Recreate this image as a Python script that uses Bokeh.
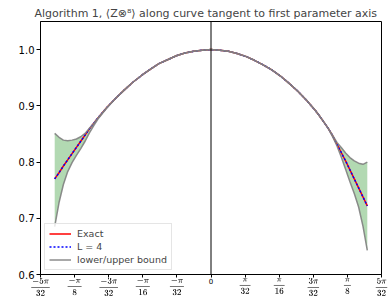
from math import pi
from bokeh.plotting import figure
from bokeh.models import Range1d, FixedTicker, Span, Legend, LegendItem, TeX
from bokeh.embed import file_html
from bokeh.resources import INLINE

# ---- data ----
x = [-0.45, -0.4375, -0.425, -0.4125, -0.40, -0.3875, -0.375, -0.3625, -0.35, -0.3375, -0.325,
     -0.30, -0.275, -0.25, -0.225, -0.20, -0.175, -0.15, -0.125, -0.10, -0.075, -0.05, -0.025, 0.0,
     0.025, 0.05, 0.075, 0.10, 0.125, 0.15, 0.175, 0.20, 0.225, 0.25, 0.275, 0.30,
     0.3125, 0.325, 0.3375, 0.35, 0.3625, 0.375, 0.3875, 0.40, 0.4125, 0.425, 0.4375, 0.45]

exact = [0.770, 0.781, 0.793, 0.804, 0.815, 0.826, 0.837, 0.848, 0.859, 0.869, 0.879,
         0.897, 0.913, 0.928, 0.942, 0.954, 0.965, 0.975, 0.982, 0.989, 0.994, 0.997, 0.999, 1.000,
         0.999, 0.997, 0.993, 0.988, 0.981, 0.973, 0.964, 0.953, 0.940, 0.926, 0.910, 0.892,
         0.882, 0.871, 0.860, 0.847, 0.832, 0.817, 0.802, 0.786, 0.770, 0.754, 0.738, 0.722]

approx_L4 = [0.770, 0.781, 0.793, 0.804, 0.815, 0.826, 0.837, 0.848, 0.859, 0.869, 0.879,
             0.897, 0.913, 0.928, 0.942, 0.954, 0.965, 0.975, 0.982, 0.989, 0.994, 0.997, 0.999, 1.000,
             0.999, 0.997, 0.993, 0.988, 0.981, 0.973, 0.964, 0.953, 0.940, 0.926, 0.910, 0.892,
             0.882, 0.871, 0.860, 0.847, 0.832, 0.817, 0.802, 0.786, 0.770, 0.754, 0.738, 0.722]

upper = [0.851, 0.844, 0.839, 0.838, 0.839, 0.841, 0.845, 0.851, 0.860, 0.869, 0.879,
         0.897, 0.913, 0.928, 0.942, 0.954, 0.965, 0.975, 0.982, 0.989, 0.994, 0.997, 0.999, 1.000,
         0.999, 0.997, 0.993, 0.988, 0.981, 0.973, 0.964, 0.953, 0.940, 0.926, 0.910, 0.892,
         0.882, 0.871, 0.860, 0.848, 0.835, 0.826, 0.816, 0.808, 0.802, 0.798, 0.796, 0.800]

lower = [0.685, 0.728, 0.760, 0.783, 0.799, 0.812, 0.824, 0.837, 0.852, 0.865, 0.877,
         0.896, 0.913, 0.928, 0.942, 0.954, 0.965, 0.975, 0.982, 0.989, 0.994, 0.997, 0.999, 1.000,
         0.999, 0.997, 0.993, 0.988, 0.981, 0.973, 0.964, 0.953, 0.940, 0.926, 0.910, 0.892,
         0.882, 0.871, 0.860, 0.845, 0.829, 0.809, 0.787, 0.765, 0.744, 0.720, 0.686, 0.643]

xtick_multiples = [-5, -4, -3, -2, -1, 0, 1, 2, 3, 4, 5]  # in units of pi/32
xtick_labels = [r"\frac{-5\pi}{32}", r"\frac{-\pi}{8}", r"\frac{-3\pi}{32}", r"\frac{-\pi}{16}",
                r"\frac{-\pi}{32}", "0", r"\frac{\pi}{32}", r"\frac{\pi}{16}", r"\frac{3\pi}{32}",
                r"\frac{\pi}{8}", r"\frac{5\pi}{32}"]
yticks = [0.6, 0.7, 0.8, 0.9, 1.0]
ytick_labels = ["0.6", "0.7", "0.8", "0.9", "1.0"]

title_text = "Algorithm 1, \u27e8Z\u2297\u2078\u27e9 along curve tangent to first parameter axis"

FONT = "DejaVu Sans"

p = figure(width=388, height=301, output_backend="svg", toolbar_location=None,
           x_range=Range1d(-5 * pi / 32, 5 * pi / 32), y_range=Range1d(0.6, 1.05),
           title=title_text, min_border_left=40, min_border_right=7,
           min_border_top=21, min_border_bottom=27, background_fill_color="white",
           border_fill_color="white")

p.title.text_font = FONT
p.title.text_font_style = "normal"
p.title.text_font_size = "11px"
p.title.align = "left"
p.title.offset = -6
p.title.standoff = 4

p.grid.visible = False
p.outline_line_color = "black"
p.outline_line_alpha = 1
p.outline_line_width = 1

xticks = [m * pi / 32 for m in xtick_multiples]
p.xaxis.ticker = FixedTicker(ticks=xticks)
p.xaxis.major_label_overrides = {t: (TeX(text=lab) if lab != "0" else "0")
                                 for t, lab in zip(xticks, xtick_labels)}
p.yaxis.ticker = FixedTicker(ticks=yticks)
p.yaxis.major_label_overrides = dict(zip(yticks, ytick_labels))

for ax in (p.xaxis[0], p.yaxis[0]):
    ax.axis_line_color = "black"
    ax.major_tick_line_color = "black"
    ax.major_tick_out = 4
    ax.major_tick_in = 0
    ax.minor_tick_line_color = None
    ax.major_label_text_font = FONT
    ax.major_label_text_color = "black"
    ax.major_label_standoff = 2
p.xaxis.major_tick_out = 3
p.xaxis.major_label_standoff = 0
p.yaxis.major_label_text_font_size = "10px"
p.xaxis.major_label_text_font_size = "7px"

p.add_layout(Span(location=0, dimension="height", line_color="black", line_width=1))

p.varea(x=x, y1=lower, y2=upper, fill_color="green", fill_alpha=0.3)
r_exact = p.line(x, exact, line_color="red", line_width=1.5)
r_l4 = p.line(x, approx_L4, line_color="blue", line_width=1.5, line_dash="2 2")
r_lo = p.line(x, lower, line_color="gray", line_width=1.5, line_alpha=0.9)
r_up = p.line(x, upper, line_color="gray", line_width=1.5, line_alpha=0.9)

legend = Legend(items=[LegendItem(label="Exact", renderers=[r_exact]),
                       LegendItem(label="L = 4", renderers=[r_l4]),
                       LegendItem(label="lower/upper bound", renderers=[r_lo])],
                location="bottom_left")
legend.label_text_font = FONT
legend.label_text_font_size = "9.5px"
legend.border_line_color = "#cccccc"
legend.background_fill_alpha = 0.8
legend.margin = 4
legend.padding = 4
legend.spacing = 2
legend.glyph_width = 22
legend.glyph_height = 11
legend.label_height = 11
legend.label_standoff = 6
p.add_layout(legend)

open("out.html", "w").write(file_html(p, INLINE))
